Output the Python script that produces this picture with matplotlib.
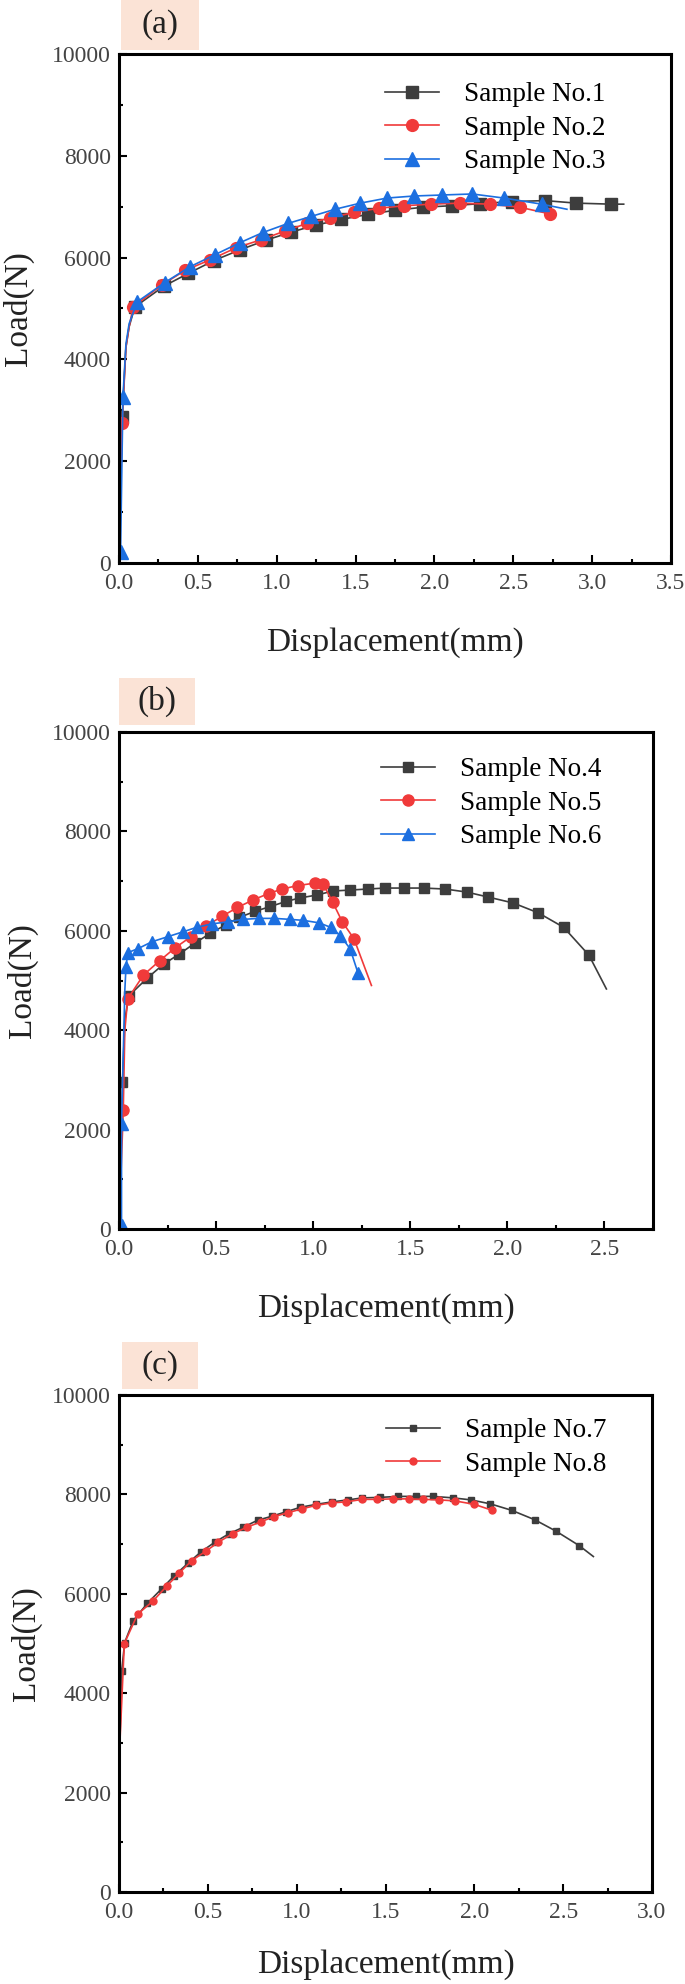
import matplotlib
matplotlib.use("Agg")
import matplotlib.pyplot as plt
from matplotlib.patches import Rectangle
from matplotlib.ticker import MultipleLocator

plt.rcParams["font.family"] = ["Liberation Serif", "DejaVu Serif"]

W, H = 685, 1984

# panel (a)
a1_x = [0, 0.02, 0.044, 0.064, 0.10, 0.285, 0.44, 0.60, 0.765, 0.93, 1.09, 1.25, 1.41, 1.58,
        1.75, 1.93, 2.11, 2.29, 2.49, 2.70, 2.90, 3.12, 3.20]
a1_y = [0, 2870, 4240, 4640, 5030, 5440, 5690, 5940, 6150, 6340, 6500, 6640, 6750, 6850,
        6930, 6990, 7020, 7060, 7100, 7120, 7070, 7050, 7050]
a2_x = [0, 0.02, 0.044, 0.064, 0.09, 0.27, 0.42, 0.58, 0.74, 0.90, 1.05, 1.19, 1.34, 1.49,
        1.65, 1.81, 1.98, 2.16, 2.35, 2.54, 2.73]
a2_y = [0, 2750, 4240, 4640, 5030, 5460, 5750, 5960, 6190, 6350, 6520, 6670, 6780, 6890,
        6970, 7020, 7050, 7070, 7050, 6990, 6860]
a3_x = [0, 0.01, 0.025, 0.044, 0.064, 0.115, 0.29, 0.45, 0.61, 0.765, 0.91, 1.07, 1.22, 1.37,
        1.53, 1.70, 1.87, 2.05, 2.24, 2.44, 2.68, 2.84]
a3_y = [0, 216, 3260, 4300, 4700, 5130, 5510, 5820, 6060, 6290, 6490, 6670, 6810, 6950,
        7070, 7170, 7210, 7230, 7250, 7170, 7050, 6950]

# panel (b)
b4_x = [0, 0.018, 0.03, 0.05, 0.146, 0.23, 0.31, 0.39, 0.47, 0.55, 0.62, 0.70, 0.78, 0.86,
        0.93, 1.02, 1.10, 1.19, 1.28, 1.37, 1.47, 1.57, 1.68, 1.79, 1.90, 2.03, 2.16, 2.29,
        2.42, 2.51]
b4_y = [0, 2960, 4200, 4690, 5050, 5330, 5530, 5750, 5950, 6120, 6270, 6390, 6490, 6590,
        6660, 6720, 6800, 6820, 6840, 6860, 6860, 6860, 6840, 6780, 6680, 6560, 6360, 6070,
        5510, 4830]
b5_x = [0, 0.022, 0.03, 0.045, 0.126, 0.21, 0.29, 0.37, 0.45, 0.53, 0.61, 0.69, 0.77, 0.84,
        0.92, 1.01, 1.05, 1.10, 1.15, 1.21, 1.30]
b5_y = [0, 2400, 4000, 4630, 5110, 5400, 5660, 5880, 6100, 6290, 6470, 6620, 6750, 6840,
        6910, 6960, 6950, 6580, 6180, 5840, 4900]
b6_x = [0, 0.013, 0.013, 0.03, 0.036, 0.045, 0.097, 0.17, 0.25, 0.33, 0.40, 0.48, 0.56, 0.64,
        0.72, 0.80, 0.88, 0.95, 1.03, 1.09, 1.14, 1.19, 1.23]
b6_y = [0, 90, 2110, 4800, 5270, 5560, 5640, 5780, 5880, 5980, 6070, 6140, 6180, 6230,
        6250, 6250, 6230, 6210, 6160, 6070, 5900, 5640, 5160]

# panel (c)
c7_x = [0, 0.005, 0.015, 0.032, 0.08, 0.16, 0.24, 0.31, 0.39, 0.46, 0.54, 0.62, 0.70, 0.78,
        0.86, 0.94, 1.02, 1.11, 1.20, 1.29, 1.37, 1.47, 1.57, 1.67, 1.77, 1.88, 1.98, 2.09,
        2.21, 2.34, 2.46, 2.59, 2.67]
c7_y = [0, 3000, 4450, 5020, 5460, 5810, 6100, 6360, 6620, 6840, 7040, 7210, 7340, 7480,
        7560, 7650, 7740, 7800, 7850, 7890, 7930, 7940, 7960, 7960, 7960, 7930, 7890, 7810,
        7680, 7490, 7260, 6970, 6750]
c8_x = [0, 0.005, 0.03, 0.105, 0.19, 0.27, 0.34, 0.41, 0.49, 0.56, 0.64, 0.72, 0.80, 0.87,
        0.95, 1.03, 1.11, 1.20, 1.28, 1.37, 1.45, 1.54, 1.63, 1.71, 1.80, 1.89, 2.00, 2.10]
c8_y = [0, 3000, 5000, 5590, 5850, 6160, 6420, 6670, 6860, 7040, 7210, 7340, 7450, 7550,
        7630, 7710, 7780, 7830, 7850, 7900, 7900, 7910, 7910, 7900, 7890, 7870, 7800, 7680]

BLACK, RED, BLUE = "#3d3d3d", "#f03a3a", "#1c6fe0"

panels = [
    dict(tag="(a)", box=(121, 0, 199, 50), ax=(119, 54, 671, 563), xmax=3.5,
         leg=(385, 82), ylpad=13, xlpad=24,
         series=[(a1_x, a1_y, BLACK, "s", 8.0, "Sample No.1", [0, 2, 3, 22]),
                 (a2_x, a2_y, RED, "o", 8.5, "Sample No.2", [0, 2, 3]),
                 (a3_x, a3_y, BLUE, "^", 9.5, "Sample No.3", [0, 3, 4, 21])]),
    dict(tag="(b)", box=(119, 678, 195, 725), ax=(119, 732, 653, 1229), xmax=2.75,
         leg=(381, 757), ylpad=10, xlpad=24,
         series=[(b4_x, b4_y, BLACK, "s", 7.5, "Sample No.4", [0, 2, 29]),
                 (b5_x, b5_y, RED, "o", 8.0, "Sample No.5", [0, 2, 20]),
                 (b6_x, b6_y, BLUE, "^", 8.5, "Sample No.6", [0, 3])]),
    dict(tag="(c)", box=(122, 1342, 198, 1389), ax=(119, 1395, 652, 1892), xmax=3.0,
         leg=(386, 1418), ylpad=7, xlpad=19,
         series=[(c7_x, c7_y, BLACK, "s", 4.5, "Sample No.7", [0, 1, 32]),
                 (c8_x, c8_y, RED, "o", 5.0, "Sample No.8", [0, 1])]),
]

fig = plt.figure(figsize=(W / 100, H / 100), dpi=100)

for p in panels:
    l, t, r, b = p["ax"]
    ax = fig.add_axes([l / W, 1 - b / H, (r - l) / W, (b - t) / H])
    for xs, ys, col, mk, ms, lab, skip in p["series"]:
        idx = [i for i in range(len(xs)) if i not in skip]
        ax.plot(xs, ys, color=col, lw=1.2, marker=mk, ms=ms, markevery=idx, label=lab)
    ax.set_xlim(0, p["xmax"])
    ax.set_ylim(0, 10000)
    ax.xaxis.set_major_locator(MultipleLocator(0.5))
    ax.xaxis.set_minor_locator(MultipleLocator(0.25))
    ax.yaxis.set_major_locator(MultipleLocator(2000))
    ax.yaxis.set_minor_locator(MultipleLocator(1000))
    ax.tick_params(which="both", direction="in", width=1.5, top=False, right=False,
                   labelsize=17, labelcolor="#444444")
    ax.tick_params(which="major", length=6)
    ax.tick_params(which="minor", length=3)
    ax.tick_params(axis="x", pad=7)
    ax.tick_params(axis="y", pad=6)
    for sp in ax.spines.values():
        sp.set_linewidth(2.2)
    ax.set_xlabel("Displacement(mm)", fontsize=24, color="#222222", labelpad=p["xlpad"])
    ax.set_ylabel("Load(N)", fontsize=24, color="#222222", labelpad=p["ylpad"])

    lx, ly = p["leg"]
    ax.legend(loc="upper left", bbox_to_anchor=((lx - l) / (r - l), 1 - (ly - t) / (b - t)),
              frameon=False, fontsize=19.5, handlelength=2.0, handletextpad=0.9,
              labelspacing=0.32, borderpad=0, borderaxespad=0)

    x0, y0, x1, y1 = p["box"]
    fig.add_artist(Rectangle((x0 / W, 1 - y1 / H), (x1 - x0) / W, (y1 - y0) / H,
                             transform=fig.transFigure, color="#fbe3d6", lw=0, zorder=0))
    fig.text((x0 + x1) / 2 / W, 1 - (y0 + y1) / 2 / H, p["tag"], fontsize=24,
             ha="center", va="center", color="#222222")

fig.savefig("out.png", dpi=100)
